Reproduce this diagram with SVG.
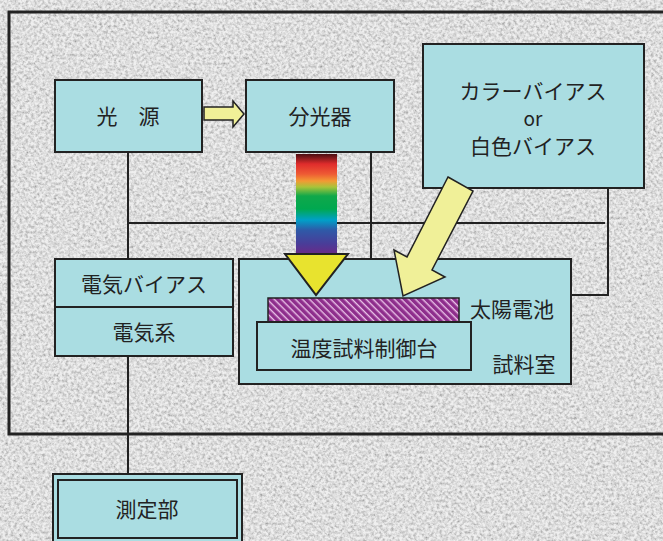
<svg xmlns="http://www.w3.org/2000/svg" width="663" height="541" viewBox="0 0 663 541">
<defs>
<style>
.box{fill:#aadde2;stroke:#222;stroke-width:2}
.t{font-family:"Noto Sans CJK JP","Noto Sans",sans-serif;font-size:21px;fill:#222;text-anchor:middle;dominant-baseline:central}
.ln{stroke:#222;stroke-width:2;fill:none}
</style>
<filter id="noise" x="0" y="0" width="100%" height="100%">
<feTurbulence type="fractalNoise" baseFrequency="0.35" numOctaves="3" seed="7" result="n"/>
<feColorMatrix type="matrix" values="1.4 0 0 0 0.05  1.4 0 0 0 0.05  1.4 0 0 0 0.05  0 0 0 0 0.6"/>
</filter>
<linearGradient id="rainbow" x1="0" y1="0" x2="0" y2="1">
<stop offset="0" stop-color="#4a0e12"/>
<stop offset="0.1" stop-color="#e02c2c"/>
<stop offset="0.2" stop-color="#ee5a34"/>
<stop offset="0.27" stop-color="#f29a34"/>
<stop offset="0.33" stop-color="#a8c43a"/>
<stop offset="0.42" stop-color="#10a84a"/>
<stop offset="0.55" stop-color="#00a850"/>
<stop offset="0.66" stop-color="#00a0c8"/>
<stop offset="0.76" stop-color="#2e5aa8"/>
<stop offset="0.9" stop-color="#4a3c98"/>
<stop offset="1" stop-color="#6a2a88"/>
</linearGradient>
<pattern id="hatch" width="5" height="5" patternUnits="userSpaceOnUse" patternTransform="rotate(45)">
<rect width="5" height="5" fill="#8e2e8c"/>
<rect width="5" height="1.4" y="2" fill="#e8c0e6"/>
</pattern>
</defs>
<rect width="663" height="541" fill="#d8d8d8"/>
<rect width="663" height="541" filter="url(#noise)"/>
<rect x="9" y="12" width="664" height="422" fill="none" stroke="#222" stroke-width="3"/>

<g id="connectors">
<polyline class="ln" points="128,152 128,259"/>
<polyline class="ln" points="128,223 605,223"/>
<polyline class="ln" points="371,152 371,259"/>
<polyline class="ln" points="608,188 608,295 571,295"/>
<polyline class="ln" points="128,356 128,475"/>
</g>

<g id="light-source">
<rect class="box" x="55" y="80" width="147" height="72"/>
<text class="t" x="128" y="115">光　源</text>
</g>

<g id="arrow-small">
<polygon points="204,107 233,107 233,101 244,114 233,127 233,120 204,120" fill="#f0f098" stroke="#222" stroke-width="1.5"/>
</g>

<g id="spectrometer">
<rect class="box" x="246" y="80" width="148" height="72"/>
<text class="t" x="320" y="115">分光器</text>
</g>

<g id="bias-light">
<rect class="box" x="423" y="44" width="221" height="144"/>
<text class="t" x="533" y="90">カラーバイアス</text>
<text class="t" x="533" y="117" style="font-size:19px">or</text>
<text class="t" x="533" y="145">白色バイアス</text>
</g>

<g id="electric">
<rect class="box" x="55" y="259" width="178" height="48"/>
<text class="t" x="144" y="283">電気バイアス</text>
<rect class="box" x="55" y="307" width="178" height="49"/>
<text class="t" x="144" y="331">電気系</text>
</g>

<g id="sample-chamber">
<rect class="box" x="239" y="259" width="332" height="125"/>
<text class="t" x="524" y="363">試料室</text>
</g>

<g id="solar-cell">
<rect x="268" y="298" width="191" height="24" fill="url(#hatch)" stroke="#222" stroke-width="1.5"/>
<text class="t" x="512" y="308">太陽電池</text>
</g>

<g id="temp-stage">
<rect class="box" x="257" y="322" width="214" height="48"/>
<text class="t" x="364" y="347">温度試料制御台</text>
</g>

<g id="beam">
<rect x="296" y="154" width="41" height="100" fill="url(#rainbow)"/>
<polygon points="285,254 348,254 316,295" fill="#e8e32e" stroke="#222" stroke-width="2" stroke-linejoin="miter"/>
</g>

<g id="bias-arrow">
<polygon points="448,177 473,191 432,270 445,277 403,296 394,250 407,257" fill="#f0f098" stroke="#222" stroke-width="1.5" stroke-linejoin="miter"/>
</g>

<g id="measure">
<rect x="53" y="474" width="189" height="72" fill="#aadde2" stroke="#222" stroke-width="2"/>
<rect x="58" y="480" width="179" height="58" fill="none" stroke="#222" stroke-width="2"/>
<text class="t" x="147" y="508">測定部</text>
</g>
</svg>
